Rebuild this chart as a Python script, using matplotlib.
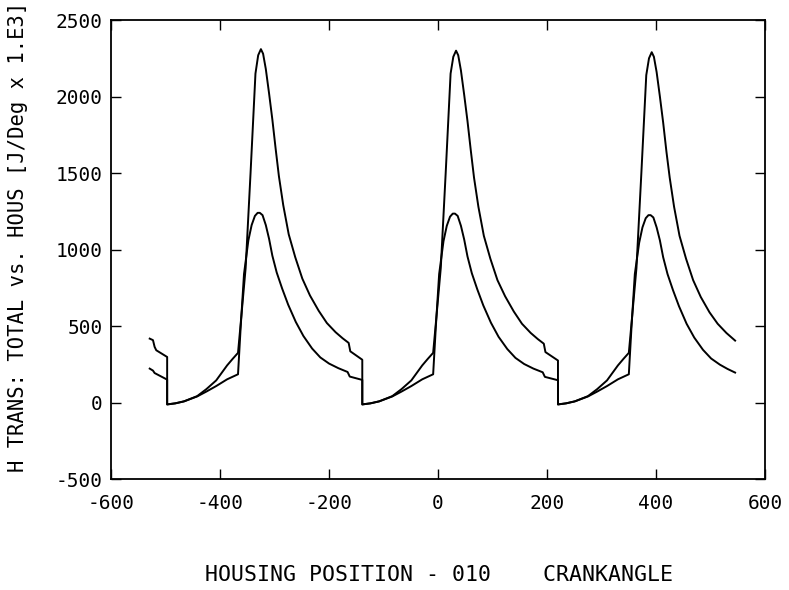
import numpy as np
import matplotlib
matplotlib.use('Agg')
import matplotlib.pyplot as plt

plt.rcParams['font.family'] = ['DejaVu Sans Mono']
plt.rcParams['axes.unicode_minus'] = False

# crank angle / heat transfer (total, upper curve)
x_total = [-529, -523, -520, -517, -497,
           -497, -482, -466, -442, -425, -407, -387, -377, -367, -361, -353, -344, -335, -330, -325,
           -321, -316, -310, -304, -298, -292, -284, -274, -262, -249, -235, -219, -204, -188, -175,
           -164, -161, -139,
           -139, -124, -108, -84, -67, -49, -29, -19, -9, -3, 5, 14, 23, 28, 33,
           37, 42, 48, 54, 60, 66, 74, 84, 96, 109, 123, 139, 154, 170, 183,
           194, 197, 220,
           220, 235, 251, 275, 292, 310, 330, 340, 350, 356, 364, 373, 382, 387, 392,
           396, 401, 407, 413, 419, 425, 433, 443, 455, 468, 482, 498, 513, 529, 545]
y_total = [418, 408, 364, 342, 298,
           -12, -5, 8, 42, 88, 145, 243, 285, 325, 560, 880, 1500, 2150, 2270, 2310,
           2280, 2180, 2020, 1850, 1660, 1480, 1290, 1100, 950, 810, 700, 600, 520, 460, 420,
           390, 335, 280,
           -12, -5, 8, 42, 88, 145, 243, 285, 325, 560, 880, 1500, 2150, 2260, 2300,
           2270, 2170, 2010, 1840, 1650, 1470, 1280, 1090, 940, 800, 695, 595, 515, 455, 415,
           385, 330, 275,
           -12, -5, 8, 42, 88, 145, 243, 285, 325, 560, 880, 1500, 2140, 2250, 2290,
           2260, 2160, 2000, 1830, 1640, 1470, 1280, 1090, 940, 800, 690, 590, 515, 455, 405]

# lower curve
x_part = [-529, -523, -520, -497,
          -497, -482, -466, -442, -425, -407, -387, -367, -362, -356, -348, -342, -336, -331, -327,
          -322, -316, -310, -304, -296, -286, -275, -261, -247, -231, -216, -200, -183, -166,
          -162, -139,
          -139, -124, -108, -84, -67, -49, -29, -9, -4, 2, 10, 16, 22, 27, 31,
          36, 42, 48, 54, 62, 72, 83, 97, 111, 127, 142, 158, 175, 192,
          196, 220,
          220, 235, 251, 275, 292, 310, 330, 350, 355, 361, 369, 375, 381, 386, 390,
          395, 401, 407, 413, 421, 431, 442, 456, 470, 486, 501, 517, 531, 545]
y_part = [222, 209, 193, 150,
          -12, -5, 8, 40, 72, 108, 152, 185, 500, 840, 1060, 1160, 1220, 1240, 1240,
          1225, 1160, 1070, 960, 850, 745, 640, 527, 435, 353, 295, 255, 225, 200,
          170, 148,
          -12, -5, 8, 40, 72, 108, 152, 185, 500, 840, 1055, 1155, 1215, 1235, 1235,
          1220, 1155, 1065, 955, 845, 740, 635, 522, 430, 350, 292, 252, 222, 198,
          168, 146,
          -12, -5, 8, 40, 72, 108, 152, 185, 500, 840, 1045, 1145, 1205, 1225, 1225,
          1210, 1145, 1060, 950, 840, 735, 630, 515, 425, 345, 288, 248, 220, 196]

xticks = [-600, -400, -200, 0, 200, 400, 600]
yticks = [-500, 0, 500, 1000, 1500, 2000, 2500]

fig = plt.figure(figsize=(7.89, 5.90), dpi=100)
ax = fig.add_axes([0.1407, 0.188, 0.829, 0.778])

ax.plot(x_total, y_total, color='black', lw=1.4)
ax.plot(x_part, y_part, color='black', lw=1.4)

ax.set_xlim(-600, 600)
ax.set_ylim(-500, 2500)
ax.set_xticks(xticks)
ax.set_yticks(yticks)
ax.tick_params(direction='in', length=7, width=1, top=True, right=True,
               labelsize=14, colors='black')
ax.tick_params(axis='x', pad=11)
ax.tick_params(axis='y', pad=6)
for s in ax.spines.values():
    s.set_linewidth(1.3)

fig.text(0.0228, 0.598, 'H TRANS: TOTAL vs. HOUS [J/Deg x 1.E3]', rotation=90,
         ha='center', va='center', fontsize=14.8)
fig.text(0.556, 0.025, 'HOUSING POSITION - 010    CRANKANGLE',
         ha='center', va='center', fontsize=15.5)

plt.savefig('out.png', dpi=100)
